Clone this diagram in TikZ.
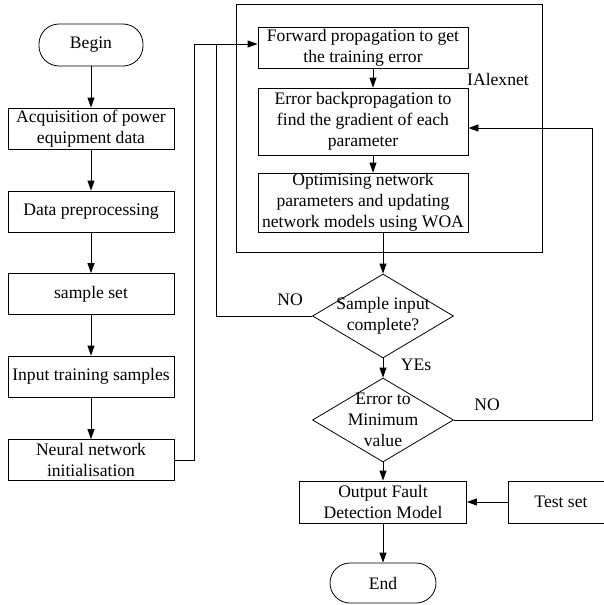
\documentclass[tikz,border=0pt]{standalone}
\usepackage{fontspec}
\setmainfont{Liberation Serif}
\usetikzlibrary{arrows.meta,shapes.geometric}
\begin{document}
\begin{tikzpicture}[x=1pt,y=-1pt,
  every node/.style={font=\fontsize{17.6}{21}\selectfont, align=center, inner sep=0pt},
  ln/.style={line width=0.8pt},
  box/.style={draw, ln, minimum width=166pt, minimum height=41pt},
  term/.style={draw, ln, rounded corners=20pt},
  dia/.style={draw, ln, diamond, minimum width=141pt, minimum height=84pt},
  arr/.style={ln, -{Triangle[length=10pt,width=7pt]}}]
\useasboundingbox (0,0) rectangle (603,605);
% left column
\node[term, minimum width=104pt, minimum height=42pt] (start) at (91,45) {Begin};
\node[box] (acq) at (91,128.5) {Acquisition of power\\equipment data};
\node[box] (pre) at (91,211.5) {Data preprocessing};
\node[box] (set) at (91,294) {sample set};
\node[box] (inp) at (91,376.5) {Input training samples};
\node[box] (nn) at (91,460) {Neural network\\initialisation};
% IAlexnet block
\node[draw, ln, minimum width=306pt, minimum height=248pt] (ialex) at (389,128) {};
\node (lab) at (498,79) {IAlexnet};
\node[box, minimum width=210pt, minimum height=41pt] (fwd) at (363,47.5) {Forward propagation to get\\the training error};
\node[box, minimum width=210pt, minimum height=67pt] (err) at (363,121.5) {Error backpropagation to\\find the gradient of each\\parameter};
\node[box, minimum width=210pt, minimum height=59pt] (opt) at (363,202.5) {Optimising network\\parameters and updating\\network models using WOA};
% decisions
\node[dia] (d1) at (383,316) {};
\node (d1t) at (383,316) {Sample input\\complete?};
\node[dia] (d2) at (383,420) {};
\node (d2t) at (383,420) {Error to\\Minimum\\value};
\node[box, minimum width=167pt, minimum height=42pt] (out) at (383,502) {Output Fault\\Detection Model};
\node[box, minimum width=106pt, minimum height=42pt] (test) at (561,502) {Test set};
\node[term, minimum width=106pt, minimum height=40pt] (fin) at (383,583) {End};
% labels
\node (no1) at (290,300) {NO};
\node (yes) at (416,365) {YEs};
\node (no2) at (487,405) {NO};
% coordinates
\coordinate (j) at (194,44);
\coordinate (k) at (216,44);
\coordinate (r) at (592,128);
% connectors
\draw[arr] (start) -- (acq);
\draw[arr] (acq) -- (pre);
\draw[arr] (pre) -- (set);
\draw[arr] (set) -- (inp);
\draw[arr] (inp) -- (nn);
\draw[arr] (nn.east) -| (j) -- (fwd.west |- j);
\draw[ln] (d1.west) -| (k);
\draw[arr] ([xshift=10pt]fwd.south) -- ([xshift=10pt]err.north);
\draw[arr] ([xshift=10pt]err.south) -- ([xshift=10pt]opt.north);
\draw[arr] ([xshift=20pt]opt.south) -- (d1.north);
\draw[arr] (d1.south) -- (d2.north);
\draw[arr] (d2.east) -| (r) -- (err.east |- r);
\draw[arr] (d2.south) -- (out.north);
\draw[arr] (test.west) -- (out.east);
\draw[arr] (out.south) -- (fin.north);
\end{tikzpicture}
\end{document}
